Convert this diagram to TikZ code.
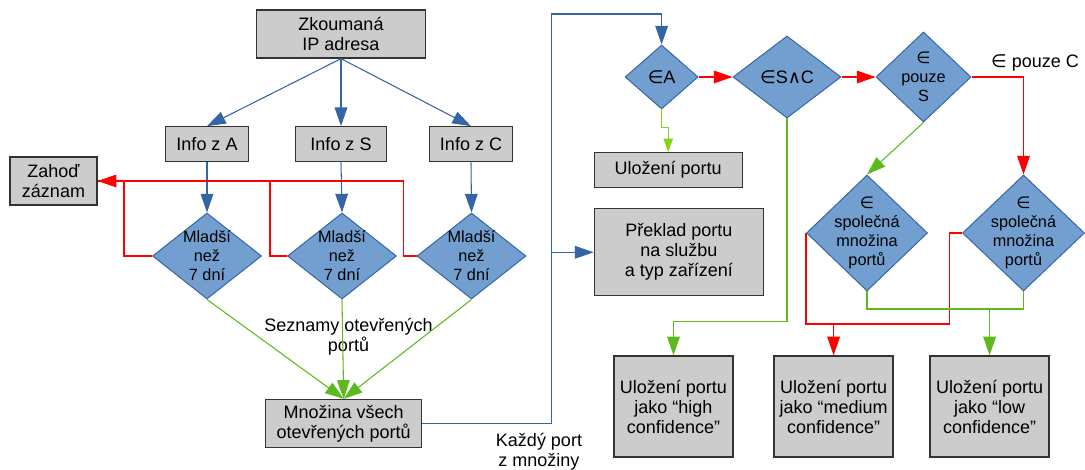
\documentclass[tikz,border=0pt]{standalone}
\usepackage{fontspec}
\setmainfont{Liberation Sans}
\newfontfamily\symf{DejaVu Sans}
\usetikzlibrary{shapes.geometric,arrows.meta,calc}
\definecolor{boxfill}{HTML}{CCCCCC}
\definecolor{boxline}{HTML}{333333}
\definecolor{diafill}{HTML}{729FCF}
\definecolor{blueline}{HTML}{3465A4}
\definecolor{greenline}{HTML}{5EB91E}
\definecolor{limeline}{HTML}{81D41A}
\definecolor{redline}{HTML}{FF0000}
\newcommand{\elm}{{\symf ∈}}
\newcommand{\wdg}{{\symf ∧}}
\begin{document}
\begin{tikzpicture}[x=0.75pt,y=-0.75pt,
	box/.style={draw=boxline,fill=boxfill,line width=1pt,align=center,inner sep=0pt,font=\fontsize{13.5pt}{15pt}\selectfont},
	dia/.style={diamond,draw=blueline,fill=diafill,line width=0.75pt,inner sep=0pt},
	dtext/.style={align=center,inner sep=0pt,font=\fontsize{12.2pt}{14.25pt}\selectfont},
	stext/.style={align=center,inner sep=0pt,font=\fontsize{13.5pt}{15pt}\selectfont},
	txt/.style={align=center,inner sep=0pt,font=\fontsize{13.5pt}{15pt}\selectfont},
	bluearr/.style={draw=blueline,line width=0.8pt,-{Triangle[length=14pt,width=9.5pt]}},
	redarr/.style={draw=redline,line width=0.8pt,-{Triangle[length=14pt,width=9.5pt]}},
	greenarr/.style={draw=greenline,line width=0.8pt,-{Triangle[length=14pt,width=9.5pt]}},
	limearr/.style={draw=limeline,line width=0.8pt,-{Triangle[length=10pt,width=7pt]}},
	redln/.style={draw=redline,line width=0.8pt},
	greenln/.style={draw=greenline,line width=0.8pt}]
	\useasboundingbox (0,0) rectangle (1085,470);
	\node[box,minimum width=126.75pt,minimum height=36pt] (ip) at (341,34) {Zkoumaná\\IP adresa};
	\node[box,minimum width=62.25pt,minimum height=26.25pt] (infoA) at (207,144.3) {Info z A};
	\node[box,minimum width=68.25pt,minimum height=26.25pt] (infoS) at (341,144.3) {Info z S};
	\node[box,minimum width=62.25pt,minimum height=26.25pt] (infoC) at (471,144.3) {Info z C};
	\node[box,minimum width=65.25pt,minimum height=36pt] (zahod) at (53.5,181) {Zahoď\\záznam};
	\node[dia,minimum width=81.75pt,minimum height=64.5pt,label={[dtext]center:{Mladší\\než\\7 dní}}] (dA) at (207,256) {};
	\node[dia,minimum width=81.75pt,minimum height=64.5pt,label={[dtext]center:{Mladší\\než\\7 dní}}] (dS) at (342,256) {};
	\node[dia,minimum width=81.75pt,minimum height=64.5pt,label={[dtext]center:{Mladší\\než\\7 dní}}] (dC) at (471.5,256) {};
	\node[box,minimum width=117pt,minimum height=36pt] (mnoz) at (343.7,423.5) {Množina všech\\otevřených portů};
	\node[txt] (sezn) at (348.5,337) {Seznamy otevřených\\portů};
	\node[txt] (kazdy) at (539,452) {Každý port\\z množiny};
	\coordinate (loop) at (551.7,14);
	\node[dia,minimum width=54.75pt,minimum height=48pt,label={[stext]center:{\elm A}}] (eA) at (661.6,77) {};
	\node[dia,minimum width=81pt,minimum height=61.5pt,label={[stext]center:{\elm S\wdg C}}] (esc) at (787,77) {};
	\node[dia,minimum width=71.25pt,minimum height=67.5pt,label={[dtext]center:{\elm\\pouze\\S}}] (pS) at (923.5,77) {};
	\node[txt] (pouzeC) at (1035,63) {\elm{} pouze C};
	\node[box,minimum width=111pt,minimum height=26.25pt] (ulo) at (668.2,170.2) {Uložení portu};
	\node[box,minimum width=126.75pt,minimum height=65.25pt] (prekl) at (678.8,252.3) {Překlad portu\\na službu\\a typ zařízení};
	\node[dia,minimum width=90.75pt,minimum height=87pt,label={[dtext]center:{\elm\\společná\\množina\\portů}}] (sL) at (867,233) {};
	\node[dia,minimum width=91.5pt,minimum height=87pt,label={[dtext]center:{\elm\\společná\\množina\\portů}}] (sR) at (1023.5,233) {};
	\node[box,minimum width=89.25pt,minimum height=75.75pt] (high) at (673.5,406.5) {Uložení portu\\jako “high\\confidence”};
	\node[box,minimum width=89.25pt,minimum height=75.75pt] (med) at (833.6,406.5) {Uložení portu\\jako “medium\\confidence”};
	\node[box,minimum width=89.25pt,minimum height=75.75pt] (low) at (989.6,406.5) {Uložení portu\\jako “low\\confidence”};
	\draw[bluearr] (ip.south) -- (infoA.north);
	\draw[bluearr] (ip.south) -- (infoS.north);
	\draw[bluearr] (ip.south) -- (infoC.north);
	\draw[bluearr] (infoA.south) -- (dA.north);
	\draw[bluearr] (infoS.south) -- (dS.north);
	\draw[bluearr] (infoC.south) -- (dC.north);
	\draw[redarr] (dA.west) -- ++(-28,0) |- (zahod.east);
	\draw[redln] (dS.west) -- ++(-17,0) |- (zahod.east);
	\draw[redln] (dC.west) -- ++(-13,0) |- (zahod.east);
	\draw[greenarr] (dA.south) -- (mnoz.north);
	\draw[greenarr] (dS.south) -- (mnoz.north);
	\draw[greenarr] (dC.south) -- (mnoz.north);
	\draw[bluearr] (mnoz.east) -| (loop) -| (eA.north);
	\draw[bluearr] (prekl.west -| loop) -- (prekl.west);
	\draw[redarr] (eA.east) -- (esc.west);
	\draw[redarr] (esc.east) -- (pS.west);
	\draw[limearr] (eA.south) -- ++(0,18) -| (ulo.north);
	\draw[greenarr] (esc.south) |- ($(high.north)+(0,-34)$) -- (high.north);
	\draw[redarr] (pS.east) -| (sR.north);
	\draw[greenarr] (pS.south) -- (sL.north);
	\coordinate (rbend) at (949.5,324);
	\draw[redln] (sL.west) |- (rbend) |- (sR.west);
	\draw[redarr] (med.north |- rbend) -- (med.north);
	\coordinate (gbend) at (989.6,309);
	\draw[greenln] (sL.south) |- (gbend) -| (sR.south);
	\draw[greenarr] (gbend) -- (low.north);
\end{tikzpicture}
\end{document}
